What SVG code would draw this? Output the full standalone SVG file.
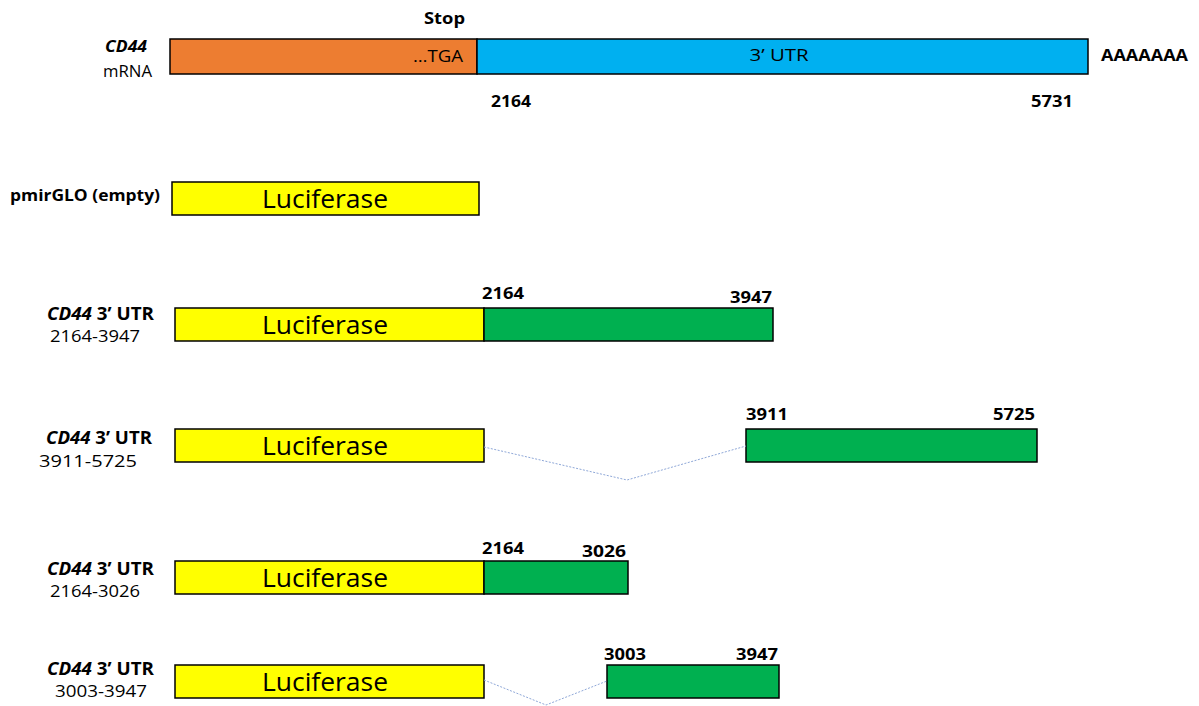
<svg xmlns="http://www.w3.org/2000/svg" width="1199" height="706" viewBox="0 0 1199 706">
<style>
text{font-family:"Open Sans","Liberation Sans",sans-serif;fill:#000}
.b{font-weight:bold;font-size:16px}
.n{font-size:16px}
.lb{font-weight:bold;font-size:17px}
.ln{font-size:17px}
.i{font-style:italic}
.luc{font-size:26px}
.box{stroke:#000;stroke-width:1.5}
.y{fill:#ffff00}
.g{fill:#00b050}
.link{fill:none;stroke:#8fa8d8;stroke-width:1;stroke-dasharray:2 1.5}
</style>
<rect width="1199" height="706" fill="#fff"/>
<g id="mrna">
<rect class="box" x="170" y="39" width="307" height="35" fill="#ed7d31"/>
<rect class="box" x="477" y="39" width="611" height="35" fill="#00b0f0"/>
<text class="b" x="424" y="24" textLength="41" lengthAdjust="spacingAndGlyphs">Stop</text>
<text class="n" x="463" y="62" text-anchor="end" textLength="50" lengthAdjust="spacingAndGlyphs">…TGA</text>
<text class="n" x="779" y="61" text-anchor="middle" font-size="17" textLength="59" lengthAdjust="spacingAndGlyphs">3’ UTR</text>
<text class="b i" x="105" y="52" textLength="42" lengthAdjust="spacingAndGlyphs">CD44</text>
<text class="n" x="103" y="77" font-size="17" textLength="49" lengthAdjust="spacingAndGlyphs">mRNA</text>
<text class="b" x="491" y="107" textLength="40" lengthAdjust="spacingAndGlyphs">2164</text>
<text class="b" x="1031" y="107" textLength="42" lengthAdjust="spacingAndGlyphs">5731</text>
<text class="b" x="1101" y="61" textLength="87" lengthAdjust="spacingAndGlyphs">AAAAAAA</text>
</g>
<g id="empty">
<text class="b" x="10" y="201" textLength="150" lengthAdjust="spacingAndGlyphs">pmirGLO (empty)</text>
<rect class="box y" x="172" y="182" width="307" height="33"/>
<text class="luc" x="325" y="208" text-anchor="middle" textLength="126" lengthAdjust="spacingAndGlyphs">Luciferase</text>
</g>
<g id="c1">
<text class="lb" x="47" y="320" textLength="107" lengthAdjust="spacingAndGlyphs"><tspan class="i">CD44</tspan> 3’ UTR</text>
<text class="ln" x="50" y="342" textLength="90" lengthAdjust="spacingAndGlyphs">2164-3947</text>
<rect class="box y" x="175" y="308" width="309" height="33"/>
<rect class="box g" x="484" y="308" width="289" height="33"/>
<text class="luc" x="325" y="334" text-anchor="middle" textLength="126" lengthAdjust="spacingAndGlyphs">Luciferase</text>
<text class="b" x="482" y="299" textLength="42" lengthAdjust="spacingAndGlyphs">2164</text>
<text class="b" x="772" y="303" text-anchor="end" textLength="42" lengthAdjust="spacingAndGlyphs">3947</text>
</g>
<g id="c2">
<text class="lb" x="46" y="444" textLength="106" lengthAdjust="spacingAndGlyphs"><tspan class="i">CD44</tspan> 3’ UTR</text>
<text class="ln" x="39" y="467" textLength="98" lengthAdjust="spacingAndGlyphs">3911-5725</text>
<rect class="box y" x="175" y="429" width="309" height="33"/>
<rect class="box g" x="746" y="429" width="291" height="33"/>
<text class="luc" x="325" y="455" text-anchor="middle" textLength="126" lengthAdjust="spacingAndGlyphs">Luciferase</text>
<text class="b" x="746" y="420" textLength="42" lengthAdjust="spacingAndGlyphs">3911</text>
<text class="b" x="1035" y="420" text-anchor="end" textLength="42" lengthAdjust="spacingAndGlyphs">5725</text>
</g>
<g id="c3">
<text class="lb" x="47" y="575" textLength="107" lengthAdjust="spacingAndGlyphs"><tspan class="i">CD44</tspan> 3’ UTR</text>
<text class="ln" x="50" y="597" textLength="90" lengthAdjust="spacingAndGlyphs">2164-3026</text>
<rect class="box y" x="175" y="561" width="309" height="33"/>
<rect class="box g" x="484" y="561" width="144" height="33"/>
<text class="luc" x="325" y="587" text-anchor="middle" textLength="126" lengthAdjust="spacingAndGlyphs">Luciferase</text>
<text class="b" x="482" y="554" textLength="42" lengthAdjust="spacingAndGlyphs">2164</text>
<text class="b" x="626" y="557" text-anchor="end" textLength="44" lengthAdjust="spacingAndGlyphs">3026</text>
</g>
<g id="c4">
<text class="lb" x="47" y="675" textLength="107" lengthAdjust="spacingAndGlyphs"><tspan class="i">CD44</tspan> 3’ UTR</text>
<text class="ln" x="55" y="697" textLength="92" lengthAdjust="spacingAndGlyphs">3003-3947</text>
<rect class="box y" x="175" y="665" width="309" height="33"/>
<rect class="box g" x="607" y="665" width="172" height="33"/>
<text class="luc" x="325" y="691" text-anchor="middle" textLength="126" lengthAdjust="spacingAndGlyphs">Luciferase</text>
<text class="b" x="604" y="660" textLength="42" lengthAdjust="spacingAndGlyphs">3003</text>
<text class="b" x="778" y="660" text-anchor="end" textLength="42" lengthAdjust="spacingAndGlyphs">3947</text>
</g>
<g id="connectors">
<polyline class="link" points="484,447 627,480 746,446"/>
<polyline class="link" points="484,680 546,705 607,681"/>
</g>
</svg>
